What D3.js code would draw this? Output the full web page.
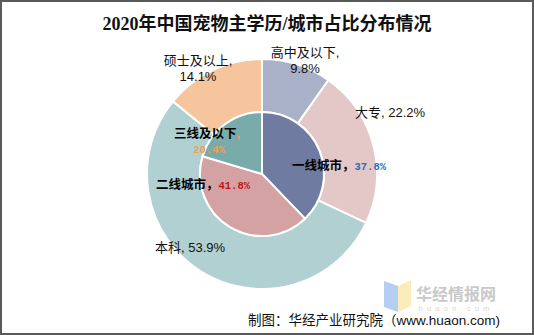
<!DOCTYPE html>
<html>
<head>
<meta charset="utf-8">
<script src="https://cdn.jsdelivr.net/npm/d3@7"></script>
<style>
  html, body { margin: 0; padding: 0; background: #fff; }
  svg { display: block; }
</style>
</head>
<body>
<svg id="chart" width="534" height="335"></svg>
<script>
// Outer ring: education level of pet owners
const eduCategories = ["高中及以下", "大专", "本科", "硕士及以上"];
const eduValues = [9.8, 22.2, 53.9, 14.1];
const eduColors = ["#a9b1c8", "#e4c8c8", "#b1d0d2", "#f6c59e"];

// Inner pie: city tier of pet owners
const cityCategories = ["一线城市", "二线城市", "三线及以下"];
const cityValues = [37.8, 41.8, 20.4];
const cityColors = ["#6f7ba0", "#d5a2a3", "#79abab"];
const cityValueColors = ["#2a6db5", "#c0151b", "#f0a050"];

const W = 534, H = 335;
const cx = 262, cy = 174;
const rOuter = 115, rInner = 62;

const svg = d3.select("#chart");

// frame
svg.append("rect")
  .attr("x", 1).attr("y", 1).attr("width", W - 2).attr("height", H - 2)
  .attr("fill", "#fff").attr("stroke", "#5a5a5a").attr("stroke-width", 2);

// title
svg.append("text")
  .attr("x", W / 2).attr("y", 30)
  .attr("text-anchor", "middle")
  .attr("font-family", "'Liberation Serif', 'Noto Sans CJK SC', serif")
  .attr("font-weight", "bold")
  .attr("font-size", 18)
  .attr("fill", "#111")
  .text("2020年中国宠物主学历/城市占比分布情况");

const pie = d3.pie().sort(null).value(d => d);
const g = svg.append("g").attr("transform", `translate(${cx},${cy})`);

const outerArc = d3.arc().innerRadius(rInner).outerRadius(rOuter);
const innerArc = d3.arc().innerRadius(0).outerRadius(rInner);

g.selectAll("path.edu")
  .data(pie(eduValues))
  .join("path")
  .attr("class", "edu")
  .attr("d", outerArc)
  .attr("fill", (d, i) => eduColors[i])
  .attr("stroke", "#fff").attr("stroke-width", 2);

g.selectAll("path.city")
  .data(pie(cityValues))
  .join("path")
  .attr("class", "city")
  .attr("d", innerArc)
  .attr("fill", (d, i) => cityColors[i])
  .attr("stroke", "#fff").attr("stroke-width", 2);

// label layout (offsets from chart centre)
const eduLabelPos = [
  { x: 43, y: -117, lines: 2 },
  { x: 93, y: -57, lines: 1, anchor: "start" },
  { x: -72, y: 78, lines: 1 },
  { x: -64, y: -109, lines: 2 }
];
const sansFont = "'Liberation Sans', 'Noto Sans CJK SC', sans-serif";

eduCategories.forEach((name, i) => {
  const p = eduLabelPos[i];
  const t = g.append("text")
    .attr("font-family", sansFont)
    .attr("font-size", 13)
    .attr("fill", "#111")
    .attr("text-anchor", p.anchor || "middle");
  const valueText = eduValues[i].toFixed(1) + "%";
  if (p.lines === 2) {
    t.append("tspan").attr("x", p.x).attr("y", p.y).text(name + ",");
    t.append("tspan").attr("x", p.x).attr("y", p.y + 16).text(valueText);
  } else {
    t.attr("x", p.x).attr("y", p.y).text(name + ", " + valueText);
  }
});

const cityLabelPos = [
  { x: 30, y: -4, lines: 1 },
  { x: -106, y: 15, lines: 1 },
  { x: -55, y: -36, lines: 2 }
];
const monoFont = "'Liberation Mono', 'DejaVu Sans Mono', monospace";

cityCategories.forEach((name, i) => {
  const p = cityLabelPos[i];
  const valueText = cityValues[i].toFixed(1) + "%";
  const t = g.append("text")
    .attr("font-family", sansFont)
    .attr("font-weight", "bold")
    .attr("font-size", 12.5)
    .attr("fill", "#000");
  if (p.lines === 2) {
    t.attr("text-anchor", "middle");
    t.append("tspan").attr("x", p.x).attr("y", p.y).text(name);
    t.append("tspan").attr("fill", cityValueColors[i]).text(",");
    g.append("text")
      .attr("x", p.x + 2).attr("y", p.y + 15)
      .attr("text-anchor", "middle")
      .attr("font-family", monoFont)
      .attr("font-weight", "bold")
      .attr("font-size", 10.5)
      .attr("fill", cityValueColors[i])
      .text(valueText);
  } else {
    t.attr("x", p.x).attr("y", p.y);
    t.append("tspan").text(name + "，");
    t.append("tspan")
      .attr("font-family", monoFont)
      .attr("font-size", 10.5)
      .attr("fill", cityValueColors[i])
      .text(valueText);
  }
});

// watermark logo and name
const wm = svg.append("g").attr("opacity", 0.75);
wm.append("path")
  .attr("d", "M384,281 L398,286 L398,312 L384,307 Z")
  .attr("fill", "#9cc0f0");
wm.append("path")
  .attr("d", "M398,286 L411,280 L411,306 L398,312 Z")
  .attr("fill", "#fbe6a4");
svg.append("text")
  .attr("x", 456).attr("y", 300)
  .attr("text-anchor", "middle")
  .attr("font-family", "'Noto Sans CJK SC', sans-serif")
  .attr("font-weight", "bold")
  .attr("font-size", 16)
  .attr("fill", "#c9c9c9")
  .text("华经情报网");
svg.append("text")
  .attr("x", 456).attr("y", 311)
  .attr("text-anchor", "middle")
  .attr("font-family", sansFont)
  .attr("font-size", 8)
  .attr("letter-spacing", 4)
  .attr("fill", "#d6d6d6")
  .text("huaon.com");

// source line
svg.append("text")
  .attr("x", 500).attr("y", 325)
  .attr("text-anchor", "end")
  .attr("font-family", sansFont)
  .attr("font-size", 13.5)
  .attr("fill", "#111")
  .text("制图：华经产业研究院（www.huaon.com)");
</script>
</body>
</html>
